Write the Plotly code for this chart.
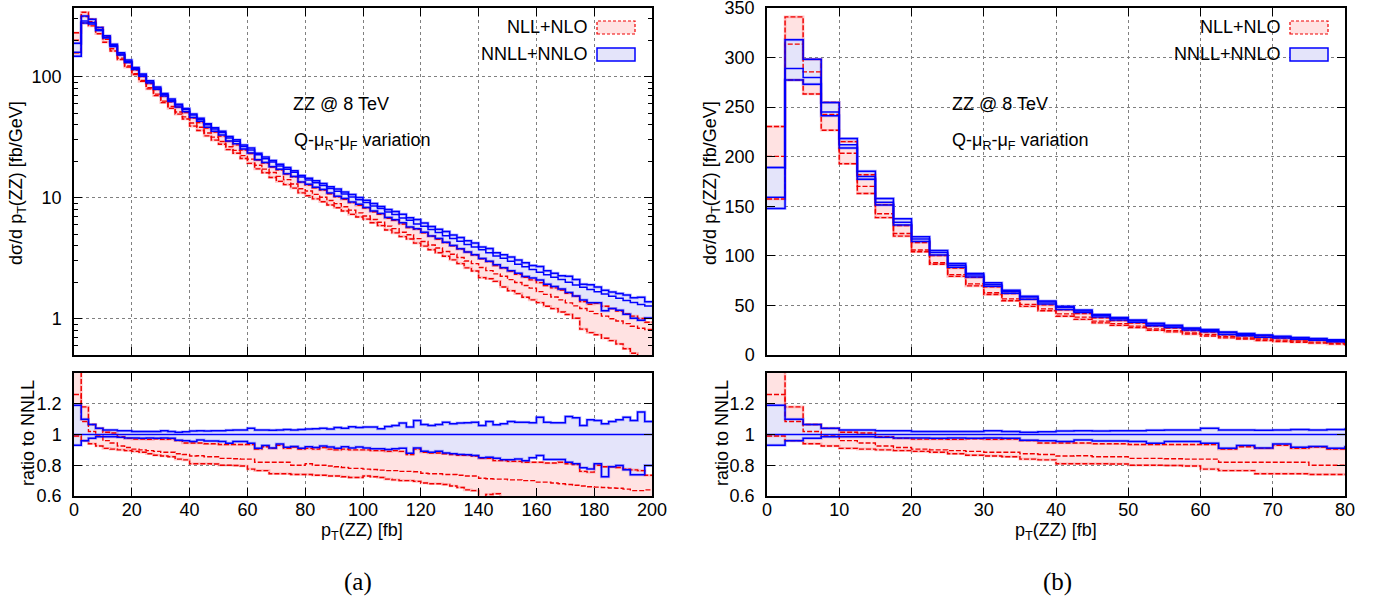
import plotly.graph_objects as go

W, H = 1381, 605

# ---------------- data (bins of 2.5 GeV from 0 to 200) ----------------
bin_edges = [i * 2.5 for i in range(81)]

# NNLL+NNLO central value [fb/GeV]
nnll_central = [159, 289, 280, 245, 212, 180, 154, 134,
                117, 103.4, 90.6, 80.6, 71, 64, 58.4, 53.5,
                48.2, 44.3, 40, 37, 34.5, 31.2, 29.2, 26.5,
                24.8, 22.6, 21, 19.7, 18.3, 17.2, 16.2, 14.8,
                14.0, 13.3, 12.6, 11.9, 11.3, 10.7, 10.1, 9.6,
                9.1, 8.55, 8.15, 7.6, 7.25, 6.8, 6.5, 6.05,
                5.8, 5.45, 5.15, 4.85, 4.6, 4.35, 4.1, 3.9,
                3.7, 3.5, 3.3, 3.15, 2.98, 2.82, 2.68, 2.55,
                2.42, 2.3, 2.2, 2.1, 2.0, 1.9, 1.82, 1.74,
                1.67, 1.6, 1.53, 1.47, 1.41, 1.36, 1.31, 1.27]

# ratios to NNLL central
nnll_hi_ratio = [1.19, 1.10, 1.065, 1.04, 1.03, 1.03, 1.025, 1.025,
                 1.02, 1.02, 1.02, 1.02, 1.025, 1.02, 1.014, 1.018,
                 1.022, 1.025, 1.022, 1.025, 1.025, 1.027, 1.03, 1.03,
                 1.04, 1.03, 1.03, 1.028, 1.03, 1.032, 1.03, 1.032,
                 1.035, 1.038, 1.04, 1.035, 1.045, 1.04, 1.05, 1.045,
                 1.048, 1.048, 1.037, 1.052, 1.059, 1.074, 1.048, 1.091,
                 1.065, 1.059, 1.065, 1.080, 1.070, 1.074, 1.076, 1.080,
                 1.058, 1.085, 1.063, 1.070, 1.085, 1.080, 1.080, 1.076,
                 1.113, 1.080, 1.076, 1.076, 1.117, 1.109, 1.058, 1.096,
                 1.091, 1.070, 1.085, 1.096, 1.113, 1.091, 1.146, 1.085]

nnll_lo_ratio = [0.93, 0.96, 0.975, 0.985, 0.985, 0.985, 0.982, 0.978,
                 0.978, 0.976, 0.978, 0.975, 0.977, 0.975, 0.962, 0.96,
                 0.954, 0.965, 0.957, 0.957, 0.954, 0.943, 0.954, 0.954,
                 0.943, 0.911, 0.928, 0.913, 0.939, 0.917, 0.922, 0.911,
                 0.92, 0.915, 0.925, 0.918, 0.91, 0.92, 0.912, 0.918,
                 0.913, 0.907, 0.907, 0.902, 0.907, 0.911, 0.878, 0.913,
                 0.891, 0.885, 0.891, 0.880, 0.874, 0.870, 0.868, 0.863,
                 0.848, 0.852, 0.846, 0.835, 0.835, 0.841, 0.830, 0.848,
                 0.863, 0.837, 0.837, 0.837, 0.820, 0.809, 0.783, 0.776,
                 0.809, 0.726, 0.791, 0.798, 0.770, 0.739, 0.739, 0.798]

nll_hi_ratio = [1.45, 1.18, 1.065, 1.04, 1.015, 1.01, 0.985, 0.975,
                0.97, 0.97, 0.968, 0.972, 0.968, 0.97, 0.96, 0.945,
                0.945, 0.945, 0.94, 0.94, 0.935, 0.935, 0.935, 0.935,
                0.935, 0.905, 0.92, 0.91, 0.93, 0.91, 0.918, 0.905,
                0.91, 0.905, 0.915, 0.905, 0.9, 0.905, 0.9, 0.9,
                0.9, 0.895, 0.895, 0.89, 0.895, 0.89, 0.87, 0.905,
                0.885, 0.88, 0.88, 0.875, 0.87, 0.865, 0.865, 0.86,
                0.845, 0.845, 0.83, 0.83, 0.825, 0.825, 0.82, 0.82,
                0.82, 0.815, 0.815, 0.82, 0.81, 0.805, 0.76, 0.755,
                0.80, 0.79, 0.79, 0.785, 0.775, 0.77, 0.765, 0.735]

nll_central_ratio = [1.26, 1.085, 1.02, 0.99, 0.96, 0.945, 0.925, 0.915,
                     0.905, 0.9, 0.895, 0.89, 0.885, 0.885, 0.875, 0.87,
                     0.86, 0.862, 0.855, 0.855, 0.845, 0.845, 0.842, 0.84,
                     0.84, 0.82, 0.82, 0.82, 0.82, 0.82, 0.80, 0.80,
                     0.81, 0.80, 0.80, 0.795, 0.79, 0.785, 0.78, 0.78,
                     0.775, 0.772, 0.768, 0.765, 0.765, 0.76, 0.76, 0.758,
                     0.748, 0.745, 0.745, 0.74, 0.74, 0.735, 0.73, 0.73,
                     0.715, 0.712, 0.71, 0.71, 0.705, 0.705, 0.70, 0.70,
                     0.69, 0.69, 0.685, 0.68, 0.675, 0.67, 0.665, 0.66,
                     0.658, 0.655, 0.652, 0.65, 0.645, 0.635, 0.635, 0.64]

nll_lo_ratio = [0.99, 0.96, 0.94, 0.925, 0.91, 0.905, 0.90, 0.895,
                0.89, 0.885, 0.875, 0.865, 0.86, 0.855, 0.84, 0.835,
                0.81, 0.81, 0.81, 0.808, 0.80, 0.80, 0.798, 0.795,
                0.775, 0.765, 0.765, 0.745, 0.745, 0.745, 0.74, 0.74,
                0.74, 0.735, 0.735, 0.73, 0.73, 0.725, 0.72, 0.72,
                0.73, 0.725, 0.72, 0.71, 0.705, 0.70, 0.70, 0.695,
                0.685, 0.68, 0.68, 0.675, 0.665, 0.655, 0.64, 0.635,
                0.59, 0.61, 0.615, 0.58, 0.57, 0.57, 0.56, 0.56,
                0.56, 0.55, 0.55, 0.54, 0.54, 0.53, 0.45, 0.44,
                0.44, 0.43, 0.43, 0.42, 0.40, 0.38, 0.35, 0.35]

legend_names = ["NLL+NLO", "NNLL+NNLO"]
process_label = "ZZ @ 8 TeV"
variation_label = "Q-μ<sub>R</sub>-μ<sub>F</sub> variation"

# ---------------- derived series ----------------
def times(c, r):
    return [a * b for a, b in zip(c, r)]

abs_sets = dict(
    red_lo=times(nnll_central, nll_lo_ratio),
    red_c=times(nnll_central, nll_central_ratio),
    red_hi=times(nnll_central, nll_hi_ratio),
    blue_lo=times(nnll_central, nnll_lo_ratio),
    blue_c=list(nnll_central),
    blue_hi=times(nnll_central, nnll_hi_ratio),
)
ratio_sets = dict(
    red_lo=nll_lo_ratio,
    red_c=nll_central_ratio,
    red_hi=nll_hi_ratio,
    blue_lo=nnll_lo_ratio,
    blue_c=[c / c for c in nnll_central],
    blue_hi=nnll_hi_ratio,
)

def steps(v):
    return list(v) + [v[-1]]

RED_FILL = "rgb(255,226,226)"
BLUE_FILL = "rgb(228,228,250)"
RED = "rgb(240,0,0)"
BLUE = "rgb(0,0,255)"

fig = go.Figure()

def add_panel(d, xa, ya):
    common = dict(x=bin_edges, mode="lines", line_shape="hv", xaxis=xa, yaxis=ya,
                  showlegend=False, hoverinfo="skip")
    fig.add_trace(go.Scatter(y=steps(d["red_lo"]), line=dict(width=0, color="rgba(0,0,0,0)"), **common))
    fig.add_trace(go.Scatter(y=steps(d["red_hi"]), fill="tonexty", fillcolor=RED_FILL,
                             line=dict(width=0, color="rgba(0,0,0,0)"), **common))
    fig.add_trace(go.Scatter(y=steps(d["blue_lo"]), line=dict(width=0, color="rgba(0,0,0,0)"), **common))
    fig.add_trace(go.Scatter(y=steps(d["blue_hi"]), fill="tonexty", fillcolor=BLUE_FILL,
                             line=dict(width=0, color="rgba(0,0,0,0)"), **common))
    for k in ("red_lo", "red_hi"):
        fig.add_trace(go.Scatter(y=steps(d[k]), line=dict(width=2.6, color="rgba(255,90,90,0.35)"), **common))
    for k in ("blue_lo", "blue_hi"):
        fig.add_trace(go.Scatter(y=steps(d[k]), line=dict(width=3, color="rgba(70,70,255,0.35)"), **common))
    for k in ("red_lo", "red_c", "red_hi"):
        fig.add_trace(go.Scatter(y=steps(d[k]), line=dict(width=1.4, color=RED, dash="5px,2px"), **common))
    for k in ("blue_lo", "blue_hi", "blue_c"):
        fig.add_trace(go.Scatter(y=steps(d[k]), line=dict(width=1.5, color=BLUE), **common))

add_panel(abs_sets, "x", "y")
add_panel(ratio_sets, "x2", "y2")
add_panel(abs_sets, "x3", "y3")
add_panel(ratio_sets, "x4", "y4")

def px(x):
    return x / W

def py(y):
    return 1 - y / H

FONT = "Liberation Sans, Arial, Helvetica, sans-serif"
FS = 18

axis_common = dict(showline=True, linecolor="black", linewidth=1.5, mirror="allticks",
                   ticks="inside", ticklen=8, tickwidth=1, tickcolor="black",
                   showgrid=True, gridcolor="#808080", gridwidth=1, griddash="dot",
                   zeroline=False, tickfont=dict(family=FONT, size=FS, color="black"),
                   automargin=False, ticklabeloverflow="allow")
xstand = dict(ticklabelstandoff=-3)
ystand = dict(ticklabelstandoff=7)

Lx = [px(74), px(652)]
Rx = [px(767), px(1345)]
Ty = [py(355), py(8)]
By = [py(496), py(373)]

ticks200 = [0, 20, 40, 60, 80, 100, 120, 140, 160, 180, 200]
ticks80 = [0, 10, 20, 30, 40, 50, 60, 70, 80]
log_minor = [0.5, 0.6, 0.7, 0.8, 0.9, 2, 3, 4, 5, 6, 7, 8, 9,
             20, 30, 40, 50, 60, 70, 80, 90, 200, 300]

fig.update_layout(
    width=W, height=H, margin=dict(l=0, r=0, t=0, b=0, autoexpand=False),
    paper_bgcolor="white", plot_bgcolor="white",
    font=dict(family=FONT, size=FS, color="black"),
    xaxis=dict(domain=Lx, anchor="y", range=[0, 200], tickvals=ticks200, showticklabels=False,
               **xstand, **axis_common),
    yaxis=dict(domain=Ty, anchor="x", type="log", range=[-0.301, 2.568], tickvals=[1, 10, 100],
               ticktext=["1", "10", "100"],
               minor=dict(ticks="inside", ticklen=4, tickcolor="black", tickvals=log_minor, showgrid=False),
               **ystand, **axis_common),
    xaxis2=dict(domain=Lx, anchor="y2", range=[0, 200], tickvals=ticks200, **xstand, **axis_common),
    yaxis2=dict(domain=By, anchor="x2", range=[0.6, 1.4], tickvals=[0.6, 0.8, 1, 1.2, 1.4],
                ticktext=["0.6", "0.8", "1", "1.2", ""], **ystand, **axis_common),
    xaxis3=dict(domain=Rx, anchor="y3", range=[0, 80], tickvals=ticks80, showticklabels=False,
                **xstand, **axis_common),
    yaxis3=dict(domain=Ty, anchor="x3", range=[0, 350], tickvals=[0, 50, 100, 150, 200, 250, 300, 350],
                **ystand, **axis_common),
    xaxis4=dict(domain=Rx, anchor="y4", range=[0, 80], tickvals=ticks80, **xstand, **axis_common),
    yaxis4=dict(domain=By, anchor="x4", range=[0.6, 1.4], tickvals=[0.6, 0.8, 1, 1.2, 1.4],
                ticktext=["0.6", "0.8", "1", "1.2", ""], **ystand, **axis_common),
)

ann = []
shapes = []

def text(x, y, s, xanchor="center", size=FS, angle=0, family=FONT):
    ann.append(dict(x=px(x), y=py(y), xref="paper", yref="paper", text=s, showarrow=False,
                    xanchor=xanchor, yanchor="middle", textangle=angle,
                    font=dict(family=family, size=size, color="black")))

for off in (0, 693):
    text(590 + off, 27, legend_names[0], xanchor="right")
    text(590 + off, 54, legend_names[1], xanchor="right")
    shapes.append(dict(type="rect", xref="paper", yref="paper",
                       x0=px(597 + off), x1=px(635 + off), y0=py(34), y1=py(21),
                       fillcolor=RED_FILL, line=dict(color=RED, width=1.2, dash="3px,2px")))
    shapes.append(dict(type="rect", xref="paper", yref="paper",
                       x0=px(597 + off), x1=px(635 + off), y0=py(61), y1=py(48),
                       fillcolor=BLUE_FILL, line=dict(color=BLUE, width=1.5)))

text(291, 104, process_label, xanchor="left")
text(292, 141, variation_label, xanchor="left")
text(950, 104, process_label, xanchor="left")
text(950, 141, variation_label, xanchor="left")

text(18, 183, "dσ/d p<sub>T</sub>(ZZ) [fb/GeV]", angle=-90)
text(712, 183, "dσ/d p<sub>T</sub>(ZZ) [fb/GeV]", angle=-90)
text(28, 433, "ratio to NNLL", angle=-90)
text(722, 433, "ratio to NNLL", angle=-90)
text(362, 531, "p<sub>T</sub>(ZZ) [fb]")
text(1056, 531, "p<sub>T</sub>(ZZ) [fb]")

text(358, 582, "(a)", size=25, family="Liberation Serif, Times New Roman, serif")
text(1057, 582, "(b)", size=25, family="Liberation Serif, Times New Roman, serif")

fig.update_layout(annotations=ann, shapes=shapes)

fig.write_html("out.html", config={"displayModeBar": False},
               post_script="document.body.style.margin='0px';")
